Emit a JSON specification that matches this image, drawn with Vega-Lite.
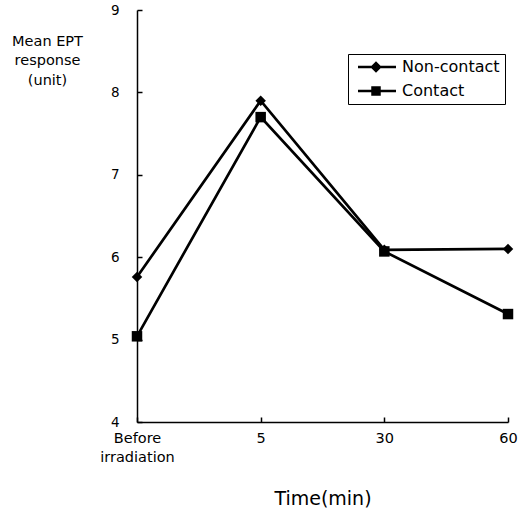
{
  "$schema": "https://vega.github.io/schema/vega-lite/v6.json",
  "width": 371,
  "height": 412,
  "autosize": "none",
  "padding": {"left": 137, "top": 10, "right": 10, "bottom": 89},
  "background": "white",
  "config": {
    "view": {"stroke": null},
    "font": "DejaVu Sans",
    "axis": {"grid": false, "domainColor": "black", "domainWidth": 1.5, "tickColor": "black", "tickWidth": 1.5, "labelColor": "black", "titleColor": "black", "titleFontWeight": "normal"}
  },
  "data": {
    "values": [
      {"time": "Before irradiation", "group": "Non-contact", "value": 5.76},
      {"time": "5", "group": "Non-contact", "value": 7.9},
      {"time": "30", "group": "Non-contact", "value": 6.09},
      {"time": "60", "group": "Non-contact", "value": 6.1},
      {"time": "Before irradiation", "group": "Contact", "value": 5.04},
      {"time": "5", "group": "Contact", "value": 7.7},
      {"time": "30", "group": "Contact", "value": 6.07},
      {"time": "60", "group": "Contact", "value": 5.31}
    ]
  },
  "encoding": {
    "x": {
      "field": "time", "type": "ordinal",
      "sort": ["Before irradiation", "5", "30", "60"],
      "scale": {"type": "point", "padding": 0},
      "axis": {
        "title": "Time(min)", "titleFontSize": 19, "titlePadding": 26,
        "labelAngle": 0, "labelFontSize": 14.5, "labelExpr": "split(datum.label, ' ')",
        "labelLineHeight": 19, "labelPadding": 14, "tickSize": -5, "labelBaseline": "top"
      }
    },
    "y": {
      "field": "value", "type": "quantitative",
      "scale": {"domain": [4, 9], "nice": false, "zero": false},
      "axis": {
        "values": [4, 5, 6, 7, 8, 9], "labelFontSize": 13.5, "labelPadding": 23, "tickSize": -5,
        "title": ["Mean EPT", "response", "(unit)"], "titleAngle": 0, "titleFontSize": 14.5,
        "titleX": -90, "titleY": 24, "titleAlign": "center", "titleBaseline": "top", "titleLineHeight": 19.5
      }
    }
  },
  "layer": [
    {
      "mark": {"type": "line", "strokeWidth": 2.7, "color": "black"},
      "encoding": {"detail": {"field": "group"}}
    },
    {
      "mark": {"type": "point", "filled": true, "color": "black", "size": 110, "opacity": 1},
      "encoding": {
        "shape": {
          "field": "group", "type": "nominal",
          "scale": {"domain": ["Non-contact", "Contact"], "range": ["diamond", "square"]},
          "legend": null
        }
      }
    },
    {
      "mark": {"type": "point", "filled": true, "color": "black", "size": 0, "opacity": 1},
      "encoding": {
        "shape": {
          "field": "group", "type": "nominal",
          "scale": {"domain": ["Non-contact", "Contact"], "range": ["M-0.6,-0.26L7,-0.26L7,0.26L-0.6,0.26ZM3,-1.15L4.15,0L3,1.15L1.85,0Z", "M-0.6,-0.26L7,-0.26L7,0.26L-0.6,0.26ZM2.05,-0.95L3.95,-0.95L3.95,0.95L2.05,0.95Z"]},
          "legend": {
            "title": null, "orient": "none", "legendX": 211, "legendY": 44,
            "strokeColor": "black", "padding": 5, "labelFontSize": 16, "labelColor": "black",
            "symbolSize": 100, "symbolStrokeWidth": 0, "symbolFillColor": "black", "symbolOpacity": 1,
            "rowPadding": 8, "labelOffset": 33,
            "encode": {
              "symbols": {
                "fill": {"value": "black"},
                "fillOpacity": {"value": 1}
              }
            }
          }
        }
      }
    }
  ],
  "resolve": {"scale": {"shape": "independent"}}
}
